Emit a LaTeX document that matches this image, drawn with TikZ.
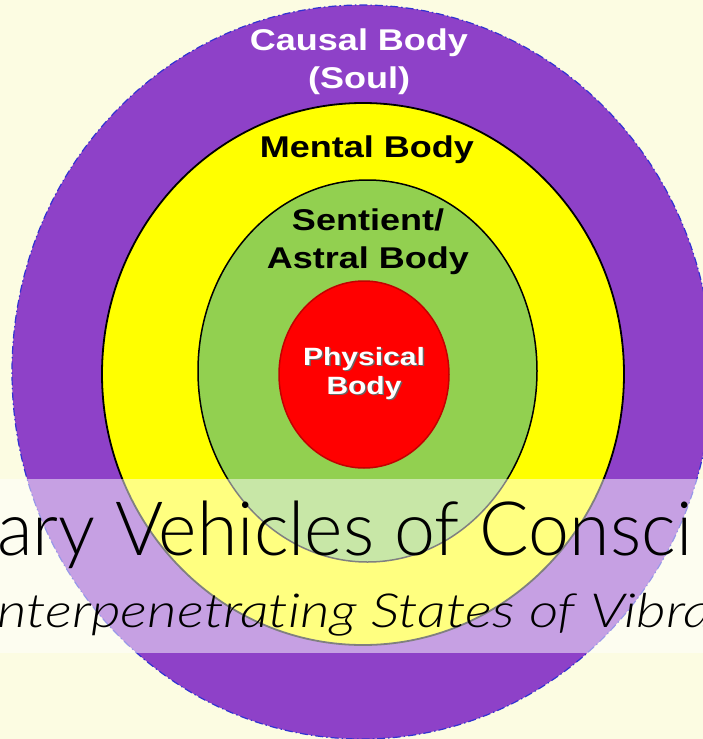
\documentclass[tikz,border=0pt]{standalone}
\usepackage{fontspec}
\setmainfont{Liberation Sans}
\newfontfamily\labelfont{Liberation Sans}[FakeStretch=1.2]
\newfontfamily\titlefont{Lato Light}[FakeStretch=0.98,Ligatures=NoCommon]
\newfontfamily\subtitlefont{Lato Light Italic}[FakeStretch=1.22,Ligatures=NoCommon]
\usetikzlibrary{shapes.geometric}
\definecolor{cream}{RGB}{252,252,226}
\definecolor{soulpurple}{RGB}{142,65,200}
\definecolor{edgeblue}{RGB}{50,50,210}
\definecolor{mentalyellow}{RGB}{255,255,0}
\definecolor{astralgreen}{RGB}{146,208,80}
\definecolor{physred}{RGB}{255,0,0}
\definecolor{physedge}{RGB}{195,0,0}

\begin{document}
\begin{tikzpicture}[x=1pt,y=-1pt,
  body/.style={ellipse,inner sep=0pt,outer sep=0pt},
  lbl/.style={font=\labelfont\bfseries\fontsize{30}{38}\selectfont,align=center,anchor=base,inner sep=0pt},
  smalllbl/.style={font=\labelfont\bfseries\fontsize{25}{29}\selectfont,align=center,anchor=base,inner sep=0pt}]
  \useasboundingbox (0,0) rectangle (703,739);
  \clip (0,0) rectangle (703,739);
  \fill[cream] (0,0) rectangle (703,739);
  \node[body,fill=soulpurple,draw=edgeblue,line width=1.2pt,
    dash pattern=on 8pt off 3pt on 1.5pt off 3pt,
    minimum width=700pt,minimum height=734pt] (causal) at (362,372) {};
  \node[body,fill=mentalyellow,draw=black,line width=1.8pt,
    minimum width=522pt,minimum height=542pt] (mental) at (363,374) {};
  \node[body,fill=astralgreen,draw=black,line width=1.5pt,
    minimum width=339pt,minimum height=382pt] (astral) at (367.5,371) {};
  \node[body,fill=physred,draw=physedge,line width=1.5pt,
    minimum width=170pt,minimum height=187pt] (physical) at (364,374.5) {};
  \node[lbl,text=white] (causallbl) at (359,88) {Causal Body\\(Soul)};
  \node[lbl] (mentallbl) at (367,157) {Mental Body};
  \node[lbl] (astrallbl) at (368,268) {Sentient/\\Astral Body};
  \node[smalllbl,text=black!60] (physshadow) at (365.5,395.5) {Physical\\Body};
  \node[smalllbl,text=white] (physlbl) at (364,394) {Physical\\Body};
  \fill[white,opacity=0.5] (0,479) rectangle (703,653);
  \node[anchor=base west,inner sep=0pt,font=\titlefont\fontsize{75}{80}\selectfont]
    (title) at (-3,555) {ary Vehicles of Consci};
  \node[anchor=base west,inner sep=0pt,font=\subtitlefont\fontsize{47}{50}\selectfont]
    (subtitle) at (-3,627) {nterpenetrating States of Vibra};
\end{tikzpicture}
\end{document}
